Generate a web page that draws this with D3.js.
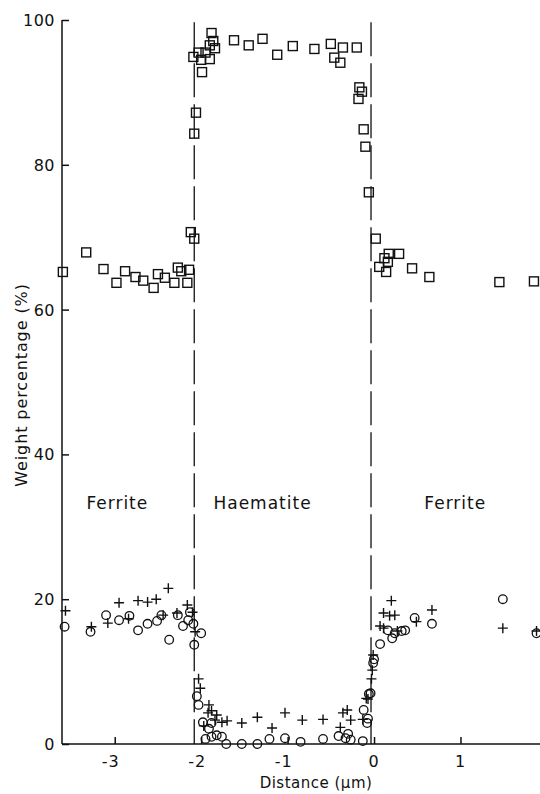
<!DOCTYPE html>
<html>
<head>
<meta charset="utf-8">
<script src="https://cdn.jsdelivr.net/npm/d3@7"></script>
<style>
  body { margin: 0; background: #fff; }
  svg { display: block; }
  text { font-family: "DejaVu Sans", Verdana, sans-serif; fill: #111; }
</style>
</head>
<body>
<svg id="chart"></svg>
<script>
'use strict';

// iron (squares)
let squareX = [-3.60, -3.33, -3.13, -2.98, -2.88, -2.76, -2.67, -2.55, -2.50, -2.42, -2.31, -2.27, -2.23, -2.16, -2.14, -2.12, -2.08,
    -2.08, -2.06, -2.09, -2.03, -2.00, -1.99, -1.95, -1.90, -1.90, -1.88, -1.86, -1.84, -1.62, -1.45, -1.29, -1.12, -0.94, -0.69,
    -0.50, -0.46, -0.39, -0.36, -0.20, -0.17, -0.14, -0.18, -0.12, -0.10, -0.06,
    0.02, 0.17, 0.29, 0.12, 0.16, 0.06, 0.14, 0.44, 0.64, 1.45, 1.85];
let squareY = [65.2, 67.9, 65.6, 63.7, 65.3, 64.5, 64.0, 63.0, 64.9, 64.4, 63.7, 65.8, 65.3, 63.7, 65.5, 70.7, 69.8,
    84.3, 87.2, 94.9, 95.5, 94.5, 92.8, 95.5, 94.6, 96.5, 98.2, 97.1, 96.1, 97.2, 96.5, 97.4, 95.2, 96.4, 96.0,
    96.7, 94.8, 94.1, 96.2, 96.2, 90.7, 90.1, 89.1, 84.9, 82.5, 76.2,
    69.8, 67.7, 67.7, 67.1, 66.6, 65.9, 65.2, 65.7, 64.5, 63.8, 63.9];

// circles
let circleX = [-3.58, -3.28, -3.10, -2.95, -2.83, -2.73, -2.62, -2.51, -2.46, -2.37, -2.27, -2.21, -2.15, -2.13, -2.09, -2.08, -2.00,
    -2.05, -2.03, -1.98, -1.88, -1.91, -1.95, -1.88, -1.82, -1.76, -1.71, -1.53, -1.35, -1.21, -1.03, -0.85, -0.59,
    -0.41, -0.33, -0.30, -0.27, -0.13, -0.12, -0.08, -0.07, -0.06, -0.04, -0.01, 0.00,
    0.07, 0.16, 0.21, 0.24, 0.32, 0.36, 0.47, 0.67, 1.49, 1.88];
let circleY = [16.2, 15.5, 17.8, 17.1, 17.7, 15.7, 16.6, 17.0, 17.8, 14.4, 17.8, 16.3, 17.1, 18.2, 16.6, 13.7, 15.3,
    6.6, 5.4, 3.0, 2.9, 2.1, 0.7, 1.0, 1.2, 1.0, 0.0, 0.0, 0.0, 0.7, 0.8, 0.3, 0.7,
    1.1, 0.8, 1.4, 0.6, 0.4, 4.7, 2.9, 3.5, 6.9, 7.0, 11.2, 11.7,
    13.8, 15.7, 14.6, 15.3, 15.6, 15.7, 17.4, 16.6, 20.0, 15.3];

// pluses
let plusX = [-3.57, -3.27, -3.08, -2.95, -2.84, -2.73, -2.62, -2.52, -2.38, -2.44, -2.28, -2.16, -2.10, -2.07,
    -2.03, -2.01, -1.91, -1.88, -1.92, -1.82, -1.84, -1.76, -1.70, -1.97, -1.53, -1.35, -1.18, -1.03, -0.83, -0.59,
    -0.39, -0.36, -0.31, -0.27, -0.13, -0.09, -0.07, -0.03, -0.02, -0.01,
    0.20, 0.11, 0.18, 0.24, 0.07, 0.11, 0.27, 0.49, 0.67, 1.49, 1.88];
let plusY = [18.4, 16.2, 16.7, 19.5, 17.3, 19.8, 19.6, 20.0, 21.5, 17.8, 18.1, 19.2, 18.2, 15.5,
    9.0, 7.7, 5.4, 4.6, 4.3, 4.0, 3.3, 3.0, 3.2, 2.5, 2.9, 3.7, 2.2, 4.3, 3.3, 3.4,
    2.3, 4.3, 4.7, 3.3, 3.4, 6.3, 6.2, 9.0, 10.2, 12.3,
    19.8, 18.1, 17.7, 17.8, 16.3, 16.0, 15.6, 16.9, 18.5, 16.0, 15.6];

let boundaries = [-2.08, -0.035];
let regionLabels = ["Ferrite", "Haematite", "Ferrite"];
let regionCentres = [-2.97, -1.29, 0.94];
let xTicks = [-3, -2, -1, 0, 1];
let yTicks = [0, 20, 40, 60, 80, 100];

function getChartConfig() {
    let width = 540, height = 794;
    let svg = d3.select("#chart").attr("width", width).attr("height", height);
    return { svg, width, height };
}

function getScales() {
    let x = d3.scaleLinear().domain([-3.61, 1.92]).range([62, 540]);
    let y = d3.scaleLinear().domain([0, 100]).range([744, 20]);
    return { x, y };
}

function drawAxes(config, scales) {
    let { svg } = config;
    let { x, y } = scales;

    let yAxis = d3.axisRight(y).tickValues(yTicks).tickSize(7).tickFormat("");
    svg.append("g")
        .attr("transform", "translate(" + x.range()[0] + ",0)")
        .call(yAxis)
        .call(g => g.select(".domain").attr("d", "M0," + y(100) + "V" + y(0)));

    svg.selectAll(".ylab").data(yTicks).enter().append("text")
        .attr("class", "ylab")
        .attr("x", 55).attr("y", d => y(d) + 6)
        .attr("text-anchor", "end")
        .style("font-size", "16px")
        .style("letter-spacing", "0.5px")
        .text(d => d);

    let xAxis = d3.axisTop(x).tickValues(xTicks).tickSize(7).tickFormat("");
    svg.append("g")
        .attr("transform", "translate(0," + y(0) + ")")
        .call(xAxis)
        .call(g => g.select(".domain").attr("d", "M" + x.range()[0] + ",0H" + x.range()[1]));

    svg.selectAll(".xlab").data(xTicks).enter().append("text")
        .attr("class", "xlab")
        .attr("x", d => x(d) - (d < 0 ? 4 : 0)).attr("y", 767)
        .attr("text-anchor", "middle")
        .style("font-size", "16px")
        .style("letter-spacing", "1px")
        .text(d => d < 0 ? "-" + Math.abs(d) : d);

    svg.selectAll(".domain, .tick line").attr("stroke", "#111").attr("stroke-width", 1.5);

    svg.append("text")
        .attr("x", 316).attr("y", 788)
        .attr("text-anchor", "middle")
        .style("font-size", "15px")
        .style("letter-spacing", "0.5px")
        .text("Distance (\u00b5m)");

    svg.append("text")
        .attr("transform", "translate(27,385) rotate(-90)")
        .attr("text-anchor", "middle")
        .style("font-size", "16px")
        .style("letter-spacing", "0.9px")
        .text("Weight percentage (%)");
}

function drawBoundaries(config, scales) {
    let { svg } = config;
    let { x, y } = scales;
    svg.selectAll(".boundary").data(boundaries).enter().append("line")
        .attr("class", "boundary")
        .attr("x1", d => x(d)).attr("x2", d => x(d))
        .attr("y1", y(99.7)).attr("y2", y(0))
        .attr("stroke", "#111")
        .attr("stroke-width", 1.3)
        .attr("stroke-dasharray", "34,7");

    svg.selectAll(".region").data(regionLabels).enter().append("text")
        .attr("class", "region")
        .attr("x", (d, i) => x(regionCentres[i]))
        .attr("y", y(32.4))
        .attr("text-anchor", "middle")
        .style("font-size", "17px")
        .style("letter-spacing", "1px")
        .text(d => d);
}

function drawPoints(config, scales) {
    let { svg } = config;
    let { x, y } = scales;

    svg.append("g").selectAll("rect").data(d3.range(squareX.length)).enter().append("rect")
        .attr("x", i => x(squareX[i]) - 4.5)
        .attr("y", i => y(squareY[i]) - 4.5)
        .attr("width", 9).attr("height", 9)
        .attr("fill", "none").attr("stroke", "#111").attr("stroke-width", 1.4);

    svg.append("g").selectAll("circle").data(d3.range(circleX.length)).enter().append("circle")
        .attr("cx", i => x(circleX[i]))
        .attr("cy", i => y(circleY[i]))
        .attr("r", 4.3)
        .attr("fill", "none").attr("stroke", "#111").attr("stroke-width", 1.3);

    svg.append("g").selectAll("path").data(d3.range(plusX.length)).enter().append("path")
        .attr("d", i => {
            let cx = x(plusX[i]), cy = y(plusY[i]);
            return "M" + (cx - 5) + "," + cy + "H" + (cx + 5) + "M" + cx + "," + (cy - 5) + "V" + (cy + 5);
        })
        .attr("fill", "none").attr("stroke", "#111").attr("stroke-width", 1.4);
}

function drawChart() {
    let config = getChartConfig();
    let scales = getScales();
    drawBoundaries(config, scales);
    drawAxes(config, scales);
    drawPoints(config, scales);
}

drawChart();
</script>
</body>
</html>
